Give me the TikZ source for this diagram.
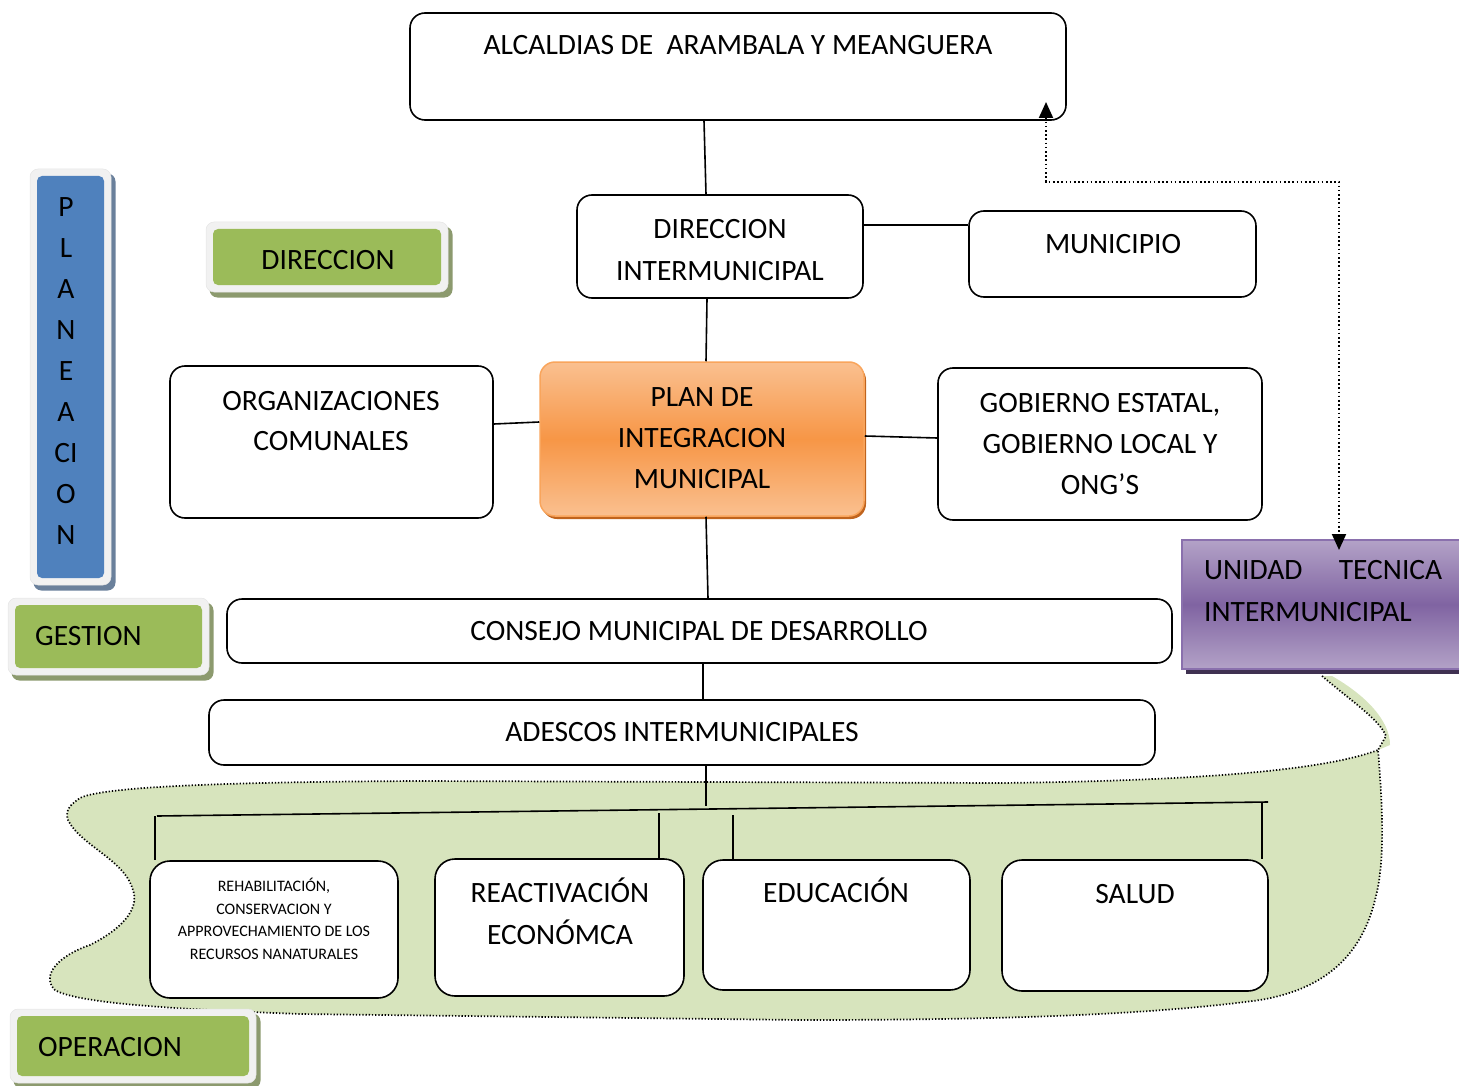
\documentclass[tikz,border=0pt]{standalone}
\usepackage{fontspec}
\setmainfont{Carlito}
\usetikzlibrary{arrows.meta}
\definecolor{blueL}{HTML}{4F81BD}
\definecolor{greenL}{HTML}{9BBB59}
\definecolor{frameG}{HTML}{F1F1F1}
\definecolor{blobG}{HTML}{D7E4BD}
\definecolor{orangeL}{HTML}{FAC090}
\definecolor{orangeM}{HTML}{F79646}
\definecolor{orangeB}{HTML}{F9A55C}
\definecolor{orangeD}{HTML}{C0641E}
\definecolor{purpleL}{HTML}{B3A2C7}
\definecolor{purpleM}{HTML}{8064A2}
\definecolor{purpleB}{HTML}{8A70AD}
\definecolor{purpleD}{HTML}{3F3151}
\tikzset{
  box/.style={draw=black, line width=1.6pt, rounded corners=15pt, fill=white, inner sep=0pt},
  txt/.style={font=\fontsize{29.5}{41}\selectfont, align=center, inner sep=0pt},
  smalltxt/.style={font=\fontsize{16}{22.5}\selectfont, align=center, inner sep=0pt},
  lblframe/.style={fill=frameG, draw=gray!20, line width=0.5pt, rounded corners=8pt, inner sep=0pt},
  lblshadow/.style={fill=#1, rounded corners=8pt, inner sep=0pt},
  lblin/.style={fill=#1, rounded corners=5pt, inner sep=0pt},
  conn/.style={draw=black, line width=1.6pt},
  dots/.style={draw=black, line width=2pt, dash pattern=on 1.6pt off 2.6pt},
  blobline/.style={draw=black, line width=1.7pt, dash pattern=on 1.3pt off 1.9pt}
}
\newcommand\mylabel[7]{%
  \node[lblshadow=#7, minimum width={#4+15}, minimum height={#5+15}] (#1-s) at ({#2+4},{#3+5}) {};
  \node[lblframe, minimum width={#4+14}, minimum height={#5+14}] (#1-f) at (#2,#3) {};
  \node[lblin=#6, minimum width=#4, minimum height=#5] (#1) at (#2,#3) {};
}
\begin{document}
\begin{tikzpicture}[x=1pt,y=-1pt]
\useasboundingbox (0,0) rectangle (1459,1086);

% green operation area
\fill[blobG] (1378,750)
  .. controls (1382,800) and (1386,860) .. (1375,900)
  .. controls (1360,960) and (1320,990) .. (1260,1000)
  .. controls (1150,1015) and (1000,1020) .. (800,1020) -- (300,1014)
  .. controls (200,1010) and (80,1005) .. (55,990)
  .. controls (40,975) and (60,955) .. (90,945)
  .. controls (120,930) and (140,910) .. (133,890)
  .. controls (125,860) and (80,845) .. (68,820)
  .. controls (65,810) and (70,805) .. (80,798)
  .. controls (100,788) and (200,782) .. (420,781) -- (1000,783)
  .. controls (1180,781) and (1320,772) .. (1378,750) -- cycle;
\fill[blobG] (1322,676) .. controls (1350,700) and (1380,720) .. (1386,736) -- (1378,750) -- (1390,745)
  .. controls (1390,720) and (1365,695) .. (1332,676) -- cycle;
\draw[blobline] (1322,676) .. controls (1350,700) and (1380,720) .. (1386,736) -- (1378,750)
  .. controls (1382,800) and (1386,860) .. (1375,900)
  .. controls (1360,960) and (1320,990) .. (1260,1000)
  .. controls (1150,1015) and (1000,1020) .. (800,1020) -- (300,1014)
  .. controls (200,1010) and (80,1005) .. (55,990)
  .. controls (40,975) and (60,955) .. (90,945)
  .. controls (120,930) and (140,910) .. (133,890)
  .. controls (125,860) and (80,845) .. (68,820)
  .. controls (65,810) and (70,805) .. (80,798)
  .. controls (100,788) and (200,782) .. (420,781) -- (1000,783)
  .. controls (1180,781) and (1320,772) .. (1378,750);

% side labels
\mylabel{plane}{70.5}{377}{67}{402}{blueL}{blueL!45!gray}
\node[txt] (plane-t) at (66,371) {P\\L\\A\\N\\E\\A\\CI\\O\\N};
\mylabel{direc}{327}{257}{228}{56}{greenL}{greenL!45!gray}
\node[txt] (direc-t) at (328,260) {DIRECCION};
\mylabel{gest}{108.5}{636.5}{187}{63}{greenL}{greenL!45!gray}
\node[txt, anchor=west] (gest-t) at (35,636) {GESTION};
\mylabel{oper}{133}{1046}{232}{60}{greenL}{greenL!45!gray}
\node[txt, anchor=west] (oper-t) at (38,1047) {OPERACION};

% main boxes
\node[box, minimum width=656, minimum height=107] (alc) at (738,66.5) {};
\node[txt] (alc-t) at (738,45) {ALCALDIAS DE\ \ ARAMBALA Y MEANGUERA};
\node[box, minimum width=286, minimum height=103] (dir) at (720,246.5) {};
\node[txt, font=\fontsize{29.5}{42}\selectfont] (dir-t) at (720,250) {DIRECCION\\INTERMUNICIPAL};
\node[box, minimum width=287, minimum height=86] (mun) at (1112.5,254) {};
\node[txt] (mun-t) at (1113,244) {MUNICIPIO};
\node[box, minimum width=323, minimum height=152] (org) at (331.5,442) {};
\node[txt, font=\fontsize{29.5}{40}\selectfont] (org-t) at (331,421) {ORGANIZACIONES\\COMUNALES};
\node[fill=orangeD, rounded corners=15pt, minimum width=324, minimum height=154, inner sep=0pt] (plan-s) at (704,442) {};
\node[draw=orangeB, line width=1.5pt, rounded corners=15pt, minimum width=324, minimum height=154,
      top color=orangeL, bottom color=orangeL, middle color=orangeM, inner sep=0pt] (plan) at (702,439) {};
\node[txt] (plan-t) at (702,438) {PLAN DE\\INTEGRACION\\MUNICIPAL};
\node[box, minimum width=324, minimum height=152] (gob) at (1100,444) {};
\node[txt] (gob-t) at (1100,444) {GOBIERNO ESTATAL,\\GOBIERNO LOCAL Y\\ONG’S};
\node[box, minimum width=945, minimum height=64] (con) at (699.5,631) {};
\node[txt] (con-t) at (699,631) {CONSEJO MUNICIPAL DE DESARROLLO};
\node[box, minimum width=946, minimum height=65] (ade) at (682,732.5) {};
\node[txt] (ade-t) at (682,732) {ADESCOS INTERMUNICIPALES};

% operation boxes
\node[box, rounded corners=20pt, minimum width=248, minimum height=137] (reh) at (274,929.5) {};
\node[smalltxt] (reh-t) at (274,919) {REHABILITACIÓN,\\CONSERVACION Y\\APPROVECHAMIENTO DE LOS\\RECURSOS NANATURALES};
\node[box, rounded corners=20pt, minimum width=249, minimum height=137] (rea) at (559.5,927.5) {};
\node[txt, font=\fontsize{29.5}{42}\selectfont] (rea-t) at (560,911) {REACTIVACIÓN\\ECONÓMCA};
\node[box, rounded corners=20pt, minimum width=267, minimum height=130] (edu) at (836.5,925) {};
\node[txt] (edu-t) at (836,890) {EDUCACIÓN};
\node[box, rounded corners=20pt, minimum width=266, minimum height=131] (sal) at (1135,925.5) {};
\node[txt] (sal-t) at (1135,894) {SALUD};

% unidad tecnica
\node[fill=purpleD, minimum width=293, minimum height=129, inner sep=0pt] (uni-s) at (1332,609) {};
\node[draw=purpleB, line width=2pt, minimum width=293, minimum height=129,
      top color=purpleL, bottom color=purpleL, middle color=purpleM, inner sep=0pt] (uni) at (1328.5,604.5) {};
\node[txt, anchor=west, align=left, text width=238pt, font=\fontsize{29.5}{42}\selectfont] (uni-t) at (1204,591) {UNIDAD\hfill TECNICA\\INTERMUNICIPAL};

% connectors
\draw[conn] (alc.south -| 704,0) -- (dir.north -| 706,0);
\draw[conn] (dir.south -| 707,0) -- (plan.north -| 706,0);
\draw[conn] (dir.east |- 0,225) -- (mun.west |- 0,225);
\draw[conn] (org.east |- 0,424) -- (plan.west |- 0,422);
\draw[conn] (plan.east |- 0,436) -- (gob.west |- 0,438);
\draw[conn] (plan.south -| 706,0) -- (con.north -| 708,0);
\draw[conn] (con.south -| 703,0) -- (ade.north -| 703,0);

% tree
\coordinate (bl) at (157,816);
\coordinate (br) at (1268,802);
\coordinate (bm) at (706,806);
\draw[conn] (ade.south -| 706,0) -- (bm);
\draw[conn] (bl) -- (br);
\draw[conn] (155,816) -- (reh.north -| 155,0);
\draw[conn] (659,813) -- (rea.north -| 659,0);
\draw[conn] (733,815) -- (edu.north -| 733,0);
\draw[conn] (1262,802) -- (sal.north -| 1262,0);

% dotted double arrow
\coordinate (atip) at (1046,102);
\coordinate (utip) at (1339,550);
\draw[dots, {Triangle[width=14pt,length=16pt]}-{Triangle[width=14pt,length=16pt]}]
  (atip) -- (1046,182) -- (1339,182) -- (utip);
\end{tikzpicture}
\end{document}
